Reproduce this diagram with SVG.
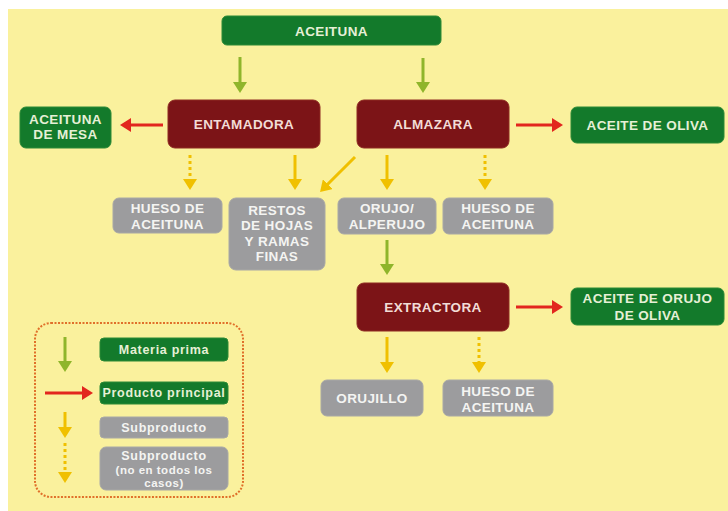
<svg xmlns="http://www.w3.org/2000/svg" width="728" height="511" viewBox="0 0 728 511">
<defs>
<style>
.bg{fill:#faf19d}
.g{fill:#137a2b;stroke:#2c8a36;stroke-width:1}
.r{fill:#7c1417;stroke:#8e2a22;stroke-width:1}
.s{fill:#9c9c9e;stroke:#a8a8a6;stroke-width:1}
text{font-family:"Liberation Sans",Arial,sans-serif;font-weight:bold;text-anchor:middle;letter-spacing:0.4px}
.tg{fill:#e6f0d6;font-size:13.5px}
.tr{fill:#f2dcd6;font-size:13.5px}
.ts{fill:#f4f4f2;font-size:13.5px}
.lg{fill:#e6f0d6;font-size:12.5px;letter-spacing:0.7px}
.ls{fill:#f4f4f2;font-size:12.5px;letter-spacing:0.7px}
.ls2{fill:#f4f4f2;font-size:11.5px;letter-spacing:0.5px}
.ag{stroke:#8fb52b;stroke-width:3;fill:none}
.ar{stroke:#e2261e;stroke-width:3;fill:none}
.ay{stroke:#f0c000;stroke-width:3;fill:none}
.ad{stroke:#f0c000;stroke-width:3;fill:none;stroke-dasharray:3 3}
</style>
<marker id="mg" markerUnits="userSpaceOnUse" markerWidth="12" markerHeight="14" refX="3" refY="7" orient="auto"><path d="M0,0 L11,7 L0,14 z" fill="#8fb52b"/></marker>
<marker id="mr" markerUnits="userSpaceOnUse" markerWidth="12" markerHeight="14" refX="3" refY="7" orient="auto"><path d="M0,0 L11,7 L0,14 z" fill="#e2261e"/></marker>
<marker id="my" markerUnits="userSpaceOnUse" markerWidth="12" markerHeight="14" refX="3" refY="7" orient="auto"><path d="M0,0 L11,7 L0,14 z" fill="#f0c000"/></marker>
</defs>
<rect x="0" y="0" width="728" height="511" fill="#ffffff"/>
<rect class="bg" x="8" y="9" width="720" height="502"/>

<g id="connectors">
<line class="ag" x1="240" y1="57" x2="240" y2="85" marker-end="url(#mg)"/>
<line class="ag" x1="423" y1="58" x2="423" y2="85" marker-end="url(#mg)"/>
<line class="ar" x1="163" y1="125" x2="128" y2="125" marker-end="url(#mr)"/>
<line class="ar" x1="516" y1="125" x2="555" y2="125" marker-end="url(#mr)"/>
<line class="ad" x1="190" y1="155" x2="190" y2="182" marker-end="url(#my)"/>
<line class="ay" x1="295" y1="155" x2="295" y2="182" marker-end="url(#my)"/>
<line class="ay" x1="355" y1="157" x2="325.7" y2="186.3" marker-end="url(#my)"/>
<line class="ay" x1="387" y1="155" x2="387" y2="182" marker-end="url(#my)"/>
<line class="ad" x1="485" y1="155" x2="485" y2="182" marker-end="url(#my)"/>
<line class="ag" x1="387" y1="240" x2="387" y2="267" marker-end="url(#mg)"/>
<line class="ar" x1="516" y1="307" x2="555" y2="307" marker-end="url(#mr)"/>
<line class="ay" x1="387" y1="337" x2="387" y2="365" marker-end="url(#my)"/>
<line class="ad" x1="479" y1="337" x2="479" y2="365" marker-end="url(#my)"/>
</g>

<g id="n-aceituna"><rect class="g" x="222" y="16" width="219" height="29" rx="5"/><text class="tg" x="331.5" y="35.5">ACEITUNA</text></g>
<g id="n-entamadora"><rect class="r" x="168" y="100" width="152" height="48" rx="7"/><text class="tr" x="244" y="129">ENTAMADORA</text></g>
<g id="n-almazara"><rect class="r" x="357" y="100" width="152" height="48" rx="7"/><text class="tr" x="433" y="129">ALMAZARA</text></g>
<g id="n-aceituna-mesa"><rect class="g" x="20" y="107" width="91" height="41" rx="6"/><text class="tg" x="65.5" y="124">ACEITUNA</text><text class="tg" x="65.5" y="139">DE MESA</text></g>
<g id="n-aceite-oliva"><rect class="g" x="571" y="107" width="153" height="36" rx="6"/><text class="tg" x="647.5" y="130">ACEITE DE OLIVA</text></g>
<g id="n-hueso-1"><rect class="s" x="113" y="198" width="109" height="35" rx="6"/><text class="ts" x="167.5" y="213">HUESO DE</text><text class="ts" x="167.5" y="229">ACEITUNA</text></g>
<g id="n-restos"><rect class="s" x="229" y="198" width="96" height="72" rx="7"/><text class="ts" x="277" y="215">RESTOS</text><text class="ts" x="277" y="230">DE HOJAS</text><text class="ts" x="277" y="245.5">Y RAMAS</text><text class="ts" x="277" y="261">FINAS</text></g>
<g id="n-orujo"><rect class="s" x="338" y="198" width="98" height="36" rx="6"/><text class="ts" x="387" y="213">ORUJO/</text><text class="ts" x="387" y="229">ALPERUJO</text></g>
<g id="n-hueso-2"><rect class="s" x="443" y="198" width="110" height="36" rx="6"/><text class="ts" x="498" y="213">HUESO DE</text><text class="ts" x="498" y="229">ACEITUNA</text></g>
<g id="n-extractora"><rect class="r" x="357" y="283" width="152" height="48" rx="7"/><text class="tr" x="433" y="312">EXTRACTORA</text></g>
<g id="n-aceite-orujo"><rect class="g" x="571" y="288" width="153" height="37" rx="6"/><text class="tg" x="647.5" y="303">ACEITE DE ORUJO</text><text class="tg" x="647.5" y="320">DE OLIVA</text></g>
<g id="n-orujillo"><rect class="s" x="321" y="380" width="102" height="36" rx="6"/><text class="ts" x="372" y="403">ORUJILLO</text></g>
<g id="n-hueso-3"><rect class="s" x="443" y="380" width="110" height="36" rx="6"/><text class="ts" x="498" y="396">HUESO DE</text><text class="ts" x="498" y="412">ACEITUNA</text></g>

<g id="legend">
<rect x="35" y="323" width="208" height="174" rx="16" fill="none" stroke="#e0702a" stroke-width="2" stroke-dasharray="2 1.5"/>
<line class="ag" x1="65" y1="337" x2="65" y2="364" marker-end="url(#mg)"/>
<line class="ar" x1="45" y1="393" x2="85" y2="393" marker-end="url(#mr)"/>
<line class="ay" x1="65" y1="412" x2="65" y2="430" marker-end="url(#my)"/>
<line class="ad" x1="65" y1="443" x2="65" y2="475" marker-end="url(#my)"/>
<rect class="g" x="100" y="338" width="128" height="23" rx="4"/><text class="lg" x="164" y="354">Materia prima</text>
<rect class="g" x="100" y="382" width="128" height="22" rx="4"/><text class="lg" x="164" y="397">Producto principal</text>
<rect class="s" x="100" y="417" width="128" height="21" rx="4"/><text class="ls" x="164" y="431.5">Subproducto</text>
<rect class="s" x="100" y="447" width="128" height="43" rx="6"/><text class="ls" x="164" y="460">Subproducto</text><text class="ls2" x="164" y="474">(no en todos los</text><text class="ls2" x="164" y="487">casos)</text>
</g>
</svg>
